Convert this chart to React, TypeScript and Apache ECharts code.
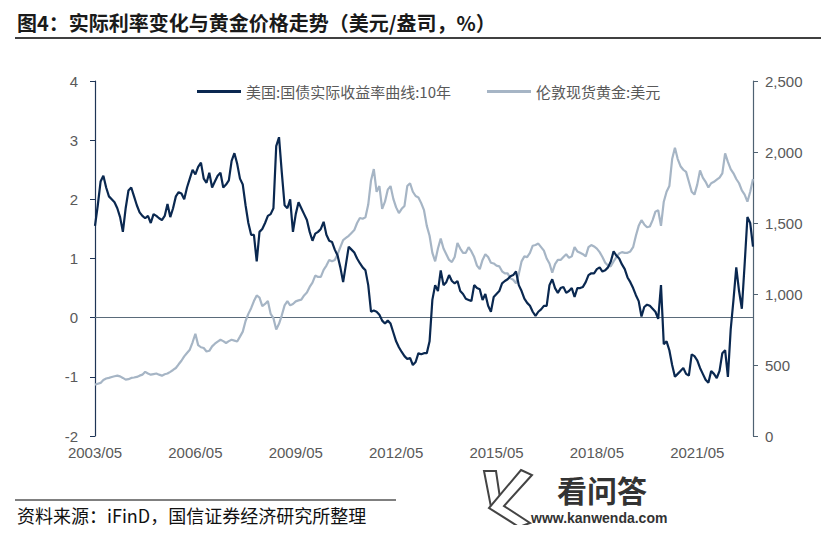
import React, { useEffect, useRef } from "react";
import * as echarts from "echarts";

const START_YEAR = 2003;
const START_MONTH = 5;
const RATE_NAME = "美国:国债实际收益率曲线:10年";
const GOLD_NAME = "伦敦现货黄金:美元";

const RATE: number[] = [
  1.55, 1.9, 2.3, 2.4, 2.2, 2.05, 2.0, 1.95, 1.85, 1.7, 1.45, 1.85,
  2.15, 2.2, 2.05, 1.9, 1.78, 1.72, 1.68, 1.72, 1.6, 1.75, 1.72, 1.68,
  1.65, 1.72, 1.92, 1.7, 1.85, 2.05, 2.12, 2.1, 2.0, 2.2, 2.35, 2.5,
  2.42, 2.55, 2.62, 2.35, 2.28, 2.45, 2.2, 2.3, 2.4, 2.45, 2.2, 2.25,
  2.32, 2.65, 2.78, 2.6, 2.35, 2.25, 1.9, 1.6, 1.4, 1.4, 0.95, 1.45,
  1.5, 1.6, 1.72, 1.75, 1.85, 2.9, 3.05, 2.45, 1.9, 1.85, 2.0, 1.45,
  1.75, 1.95, 1.85, 1.75, 1.65, 1.45, 1.3, 1.42, 1.45, 1.5, 1.62, 1.4,
  1.3, 1.28, 1.15, 1.05, 0.85, 0.6, 0.9, 1.2, 1.15, 1.1, 1.0, 0.92,
  0.85, 0.8, 0.55, 0.1, 0.12, 0.1, 0.05, -0.05, -0.1, -0.05, -0.1, -0.25,
  -0.4, -0.5, -0.58, -0.65, -0.7, -0.68, -0.8, -0.75, -0.6, -0.62, -0.6, -0.6,
  -0.4, 0.3, 0.55, 0.45, 0.8, 0.55, 0.6, 0.72, 0.62, 0.58, 0.62, 0.45,
  0.4, 0.32, 0.3, 0.28, 0.55, 0.5, 0.48, 0.3, 0.4, 0.2, 0.1, 0.35,
  0.4, 0.45, 0.58, 0.62, 0.65, 0.7, 0.72, 0.78, 0.55, 0.45, 0.32, 0.25,
  0.2, 0.1, 0.03, 0.1, 0.14, 0.2, 0.2, 0.55, 0.65, 0.5, 0.42, 0.5,
  0.52, 0.42, 0.45, 0.5, 0.35, 0.5, 0.5, 0.52, 0.6, 0.72, 0.75, 0.75,
  0.82, 0.85, 0.78, 0.8, 0.85, 0.95, 1.12, 1.05, 1.0, 0.9, 0.82, 0.68,
  0.6, 0.5, 0.38, 0.28, 0.02, 0.18, 0.22, 0.2, 0.15, 0.1, -0.02, 0.55,
  -0.45, -0.4, -0.55, -0.8, -1.0, -0.95, -0.9, -0.85, -0.95, -0.98, -0.62, -0.65,
  -0.72, -0.85, -0.95, -1.05, -1.1, -0.9, -0.95, -1.02, -0.9, -0.6, -0.55, -1.0,
  -0.2, 0.3, 0.85, 0.45, 0.15, 0.9, 1.7, 1.6, 1.2,
];

const GOLD: number[] = [
  362, 368, 374, 395, 405, 409, 415, 421, 425, 420, 409, 397,
  400, 409, 412, 416, 425, 432, 452, 440, 432, 436, 440, 432,
  425, 435, 440, 452, 465, 479, 505, 530, 561, 585, 608, 660,
  720, 640, 625, 620, 595, 600, 631, 650, 665, 678, 668, 655,
  668, 678, 672, 666, 700, 735, 810, 860, 900, 950, 990, 975,
  915, 930, 950, 860, 830, 750, 790, 850, 920, 950, 920, 930,
  948, 955, 960, 990, 1010, 1050, 1080, 1130, 1120, 1120, 1170, 1200,
  1240, 1230, 1240, 1280, 1330, 1380, 1395, 1410, 1430, 1450, 1500, 1535,
  1530, 1540, 1630, 1800, 1880, 1720, 1760, 1600, 1650, 1735, 1760, 1670,
  1610, 1570, 1600, 1620, 1760, 1780, 1720, 1690, 1680, 1640, 1590, 1480,
  1410, 1290, 1230, 1320, 1390, 1320, 1280, 1240, 1225, 1260, 1360, 1320,
  1290, 1290, 1330, 1300, 1260, 1200, 1175, 1240, 1280, 1260, 1220, 1215,
  1200, 1195, 1160, 1145, 1145, 1110, 1100, 1075, 1140, 1230, 1265, 1260,
  1290, 1340, 1345, 1355, 1330, 1305, 1250, 1215, 1150, 1210, 1240, 1240,
  1260, 1280, 1255, 1265, 1330, 1300, 1290, 1280, 1265, 1330, 1345, 1335,
  1320, 1295, 1260, 1220, 1200, 1195, 1230, 1260, 1285, 1295, 1290, 1290,
  1300, 1330, 1410, 1480, 1520, 1490, 1470, 1475, 1520, 1580, 1590, 1480,
  1650, 1720, 1760, 1950, 2030, 1950, 1900, 1875, 1860, 1790, 1720, 1700,
  1770, 1870, 1820, 1790, 1750, 1780, 1790, 1805, 1820, 1850, 1990, 1930,
  1880, 1850, 1810, 1780, 1730, 1700, 1650, 1720, 1810,
];

const DATES: string[] = RATE.map((_, i) => {
  const t = START_MONTH - 1 + i;
  const y = START_YEAR + Math.floor(t / 12);
  const m = (t % 12) + 1;
  return `${y}/${m < 10 ? "0" + m : m}`;
});

const LEFT_TICKS = { min: -2, max: 4, interval: 1 };
const RIGHT_TICKS = { min: 0, max: 2500, interval: 500 };

const TITLE = "图4：实际利率变化与黄金价格走势（美元/盎司，%）";
const SOURCE = "资料来源：iFinD，国信证券经济研究所整理";

export default function App() {
  const ref = useRef<HTMLDivElement>(null);
  useEffect(() => {
    if (!ref.current) return;
    const chart = echarts.init(ref.current, undefined, { renderer: "svg" });
    const labelColor = "#595959";
    const font = "'Liberation Sans', Arial, sans-serif";
    const cjk = "'Noto Sans CJK SC', sans-serif";
    chart.setOption({
      animation: false,
      backgroundColor: "#ffffff",
      textStyle: { fontFamily: font },
      grid: { left: 95, right: 76, top: 81, bottom: 97, containLabel: false },
      legend: {
        left: 192,
        top: 79,
        itemWidth: 44,
        itemHeight: 3,
        itemGap: 36,
        icon: "rect",
        textStyle: { color: labelColor, fontSize: 15, fontFamily: cjk },
        data: [RATE_NAME, GOLD_NAME],
      },
      xAxis: {
        type: "category",
        data: DATES,
        boundaryGap: false,
        axisLine: { show: false },
        axisTick: { show: false },
        axisLabel: {
          interval: 35,
          color: labelColor,
          fontSize: 15,
          margin: 9,
          fontFamily: font,
        },
        splitLine: { show: false },
      },
      yAxis: [
        {
          type: "value",
          position: "left",
          ...LEFT_TICKS,
          axisLine: { show: true, lineStyle: { color: "#1f3556", width: 1.2 } },
          axisTick: { show: true, length: 5, lineStyle: { color: "#1f3556" } },
          axisLabel: { color: labelColor, fontSize: 15, margin: 17, fontFamily: font },
          splitLine: { show: false },
        },
        {
          type: "value",
          position: "right",
          ...RIGHT_TICKS,
          axisLine: { show: true, lineStyle: { color: "#4f6272", width: 1.2 } },
          axisTick: { show: true, length: 5, lineStyle: { color: "#4f6272" } },
          axisLabel: {
            color: labelColor,
            fontSize: 15,
            margin: 12,
            fontFamily: font,
            formatter: (v: number) => v.toLocaleString("en-US"),
          },
          splitLine: { show: false },
        },
      ],
      series: [
        {
          name: GOLD_NAME,
          type: "line",
          yAxisIndex: 1,
          data: GOLD,
          showSymbol: false,
          symbol: "none",
          lineStyle: { color: "#a6b5c5", width: 2.2 },
          itemStyle: { color: "#a6b5c5" },
          z: 2,
        },
        {
          name: RATE_NAME,
          type: "line",
          yAxisIndex: 0,
          data: RATE,
          showSymbol: false,
          symbol: "none",
          lineStyle: { color: "#0a2850", width: 2.2 },
          itemStyle: { color: "#0a2850" },
          z: 3,
          markLine: {
            silent: true,
            symbol: "none",
            label: { show: false },
            lineStyle: { color: "#5a6b7a", width: 1, type: "solid" },
            data: [{ yAxis: 0 }],
            z: 1,
          },
        },
      ],
      graphic: [
        {
          type: "text",
          x: 17,
          y: 22,
          style: {
            text: TITLE,
            fontSize: 20,
            fontWeight: "bold",
            fill: "#1a1a1a",
            fontFamily: cjk,
            verticalAlign: "middle",
          },
        },
        {
          type: "line",
          shape: { x1: 15, y1: 38, x2: 828, y2: 38 },
          style: { stroke: "#000000", lineWidth: 1.5 },
        },
        {
          type: "line",
          shape: { x1: 15, y1: 500, x2: 396, y2: 500 },
          style: { stroke: "#000000", lineWidth: 1 },
        },
        {
          type: "text",
          x: 17,
          y: 515,
          style: {
            text: SOURCE,
            fontSize: 18,
            fill: "#111111",
            fontFamily: cjk,
            verticalAlign: "middle",
          },
        },
        {
          type: "polygon",
          shape: { points: [[484, 471], [496, 471], [500, 498], [491, 507]] },
          style: { fill: "#ffffff", stroke: "#444444", lineWidth: 2 },
        },
        {
          type: "polygon",
          shape: {
            points: [[521, 470], [532, 475], [504, 506], [530, 523], [519, 527], [489, 508]],
          },
          style: { fill: "#ffffff", stroke: "#444444", lineWidth: 2 },
        },
        {
          type: "text",
          x: 557,
          y: 489,
          style: {
            text: "看问答",
            fontSize: 30,
            fontWeight: "bold",
            fill: "#333333",
            fontFamily: cjk,
            verticalAlign: "middle",
          },
        },
        {
          type: "text",
          x: 531,
          y: 518,
          style: {
            text: "www.kanwenda.com",
            fontSize: 14,
            fontWeight: "bold",
            fill: "#333333",
            fontFamily: font,
            verticalAlign: "middle",
          },
        },
      ],
    });
    return () => chart.dispose();
  }, []);
  return <div ref={ref} style={{ width: 829, height: 533, margin: -8 }} />;
}
